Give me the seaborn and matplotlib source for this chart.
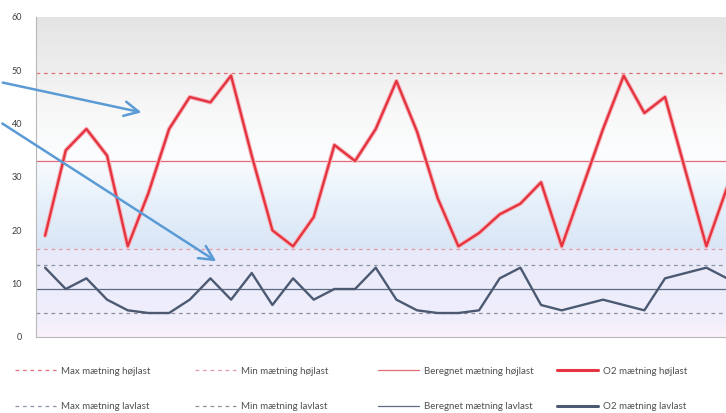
import numpy as np
import pandas as pd
import seaborn as sns
import matplotlib.pyplot as plt
from matplotlib.colors import to_rgb
from matplotlib.lines import Line2D

'''------------------------------ Data -----------------------------------'''
o2_hoejlast = [19, 35, 39, 34, 17, 27, 39, 45, 44, 49, 34, 20, 17, 22.5, 36, 33, 39, 48,
               38.5, 26, 17, 19.5, 23, 25, 29, 17, 28, 39, 49, 42, 45, 31, 17, 28]
o2_lavlast = [13, 9, 11, 7, 5, 4.5, 4.5, 7, 11, 7, 12, 6, 11, 7, 9, 9, 13, 7,
              5, 4.5, 4.5, 5, 11, 13, 6, 5, 6, 7, 6, 5, 11, 12, 13, 11]
max_hoejlast = 49.5
min_hoejlast = 16.5
beregnet_hoejlast = 33
max_lavlast = 13.5
min_lavlast = 4.5
beregnet_lavlast = 9
y_ticks = [0, 10, 20, 30, 40, 50, 60]

labels = ['Max mætning højlast', 'Min mætning højlast', 'Beregnet mætning højlast', 'O2 mætning højlast',
          'Max mætning lavlast', 'Min mætning lavlast', 'Beregnet mætning lavlast', 'O2 mætning lavlast']

df = pd.DataFrame({'maaling': np.arange(len(o2_hoejlast)),
                   'hoej': o2_hoejlast,
                   'lav': o2_lavlast})

'''------------------------------ Style -----------------------------------'''
sns.set_style("white")
plt.rcParams['font.family'] = ['Lato', 'DejaVu Sans']

red = '#e3343f'
red_thin = '#e46a78'
red_dash = '#e0707c'
pink_dash = '#e39aa8'
navy = '#4b5a72'
navy_thin = '#5d6b82'
gray_dash = '#8c96a8'
mauve_dash = '#978a9c'

fig = plt.figure(figsize=(7.26, 4.13), dpi=100)
ax = fig.add_axes([36 / 726, 1 - 337 / 413, 1 - 36 / 726, 320 / 413])

x_left, x_right = -0.44, 32.95

# background gradient (gray top -> white -> light blue -> lavender -> pink at bottom)
stops_v = [0, 3, 16.4, 16.6, 25, 34, 42, 52, 60]
stops_c = ['#fbf1fb', '#f1effc', '#e8e9f9', '#d9e6f6', '#e6f0fa', '#fbfdfe', '#f8f8f8', '#ececec', '#e4e4e4']
yy = np.linspace(0, 60, 600)
rgb = np.array([to_rgb(c) for c in stops_c])
grad = np.stack([np.interp(yy, stops_v, rgb[:, k]) for k in range(3)], axis=-1)
ax.imshow(grad[:, None, :], extent=[x_left, x_right, 0, 60], origin='lower',
          aspect='auto', zorder=0, interpolation='bilinear')

# reference lines
ax.axhline(max_hoejlast, color=red_dash, lw=0.9, ls=(0, (3, 3)), zorder=2)
ax.axhline(min_hoejlast, color=pink_dash, lw=0.9, ls=(0, (3, 3)), zorder=2)
ax.axhline(beregnet_hoejlast, color=red_thin, lw=0.9, zorder=2)
ax.axhline(max_lavlast, color=gray_dash, lw=0.9, ls=(0, (3, 3)), zorder=2)
ax.axhline(min_lavlast, color=mauve_dash, lw=0.9, ls=(0, (3, 3)), zorder=2)
ax.axhline(beregnet_lavlast, color=navy_thin, lw=0.9, zorder=2)

# measured series
sns.lineplot(data=df, x='maaling', y='hoej', ax=ax, color='#f7b6bd', lw=3.2, zorder=3)
sns.lineplot(data=df, x='maaling', y='hoej', ax=ax, color=red, lw=1.7, zorder=4)
sns.lineplot(data=df, x='maaling', y='lav', ax=ax, color=navy, lw=1.7, zorder=4)

ax.set_xlim(x_left, x_right)
ax.set_ylim(0, 60)
ax.set_yticks(y_ticks)
ax.set_yticklabels([str(t) for t in y_ticks], fontsize=6.5, color='#404040')
ax.set_xticks([])
ax.set_xlabel('')
ax.set_ylabel('')
ax.tick_params(axis='y', length=0, pad=10)
for s in ['top', 'right']:
  ax.spines[s].set_visible(False)
ax.spines['left'].set_color('#b8b8b8')
ax.spines['bottom'].set_color('#b8b8b8')

# annotation arrows
arrow_props = dict(arrowstyle='->', color='#5b9bd5', lw=1.8, mutation_scale=26)
ax.annotate('', xy=(4.8, 42), xytext=(0.0, 1 - 82 / 413), textcoords='figure fraction',
            arrowprops=arrow_props, annotation_clip=False, zorder=6)
ax.annotate('', xy=(8.4, 13.9), xytext=(0.0, 1 - 122 / 413), textcoords='figure fraction',
            arrowprops=arrow_props, annotation_clip=False, zorder=6)

# legend, 4 columns at fixed positions like the source
handles = [
  Line2D([], [], color=red_dash, lw=0.9, ls=(0, (3, 3))),
  Line2D([], [], color=pink_dash, lw=0.9, ls=(0, (3, 3))),
  Line2D([], [], color=red_thin, lw=0.9),
  Line2D([], [], color=red, lw=2.2),
  Line2D([], [], color=gray_dash, lw=0.9, ls=(0, (3, 3))),
  Line2D([], [], color=mauve_dash, lw=0.9, ls=(0, (3, 3))),
  Line2D([], [], color=navy_thin, lw=0.9),
  Line2D([], [], color=navy, lw=2.2),
]
col_x = [10, 190, 373, 552]
for c in range(4):
  fig.legend([handles[c], handles[c + 4]], [labels[c], labels[c + 4]],
             loc='upper left', bbox_to_anchor=(col_x[c] / 726, 1 - 362 / 413),
             frameon=False, fontsize=7, handlelength=4.2, handletextpad=0.5,
             labelspacing=2.7, labelcolor='#505050', borderpad=0)

fig.savefig('out.png', dpi=100)
